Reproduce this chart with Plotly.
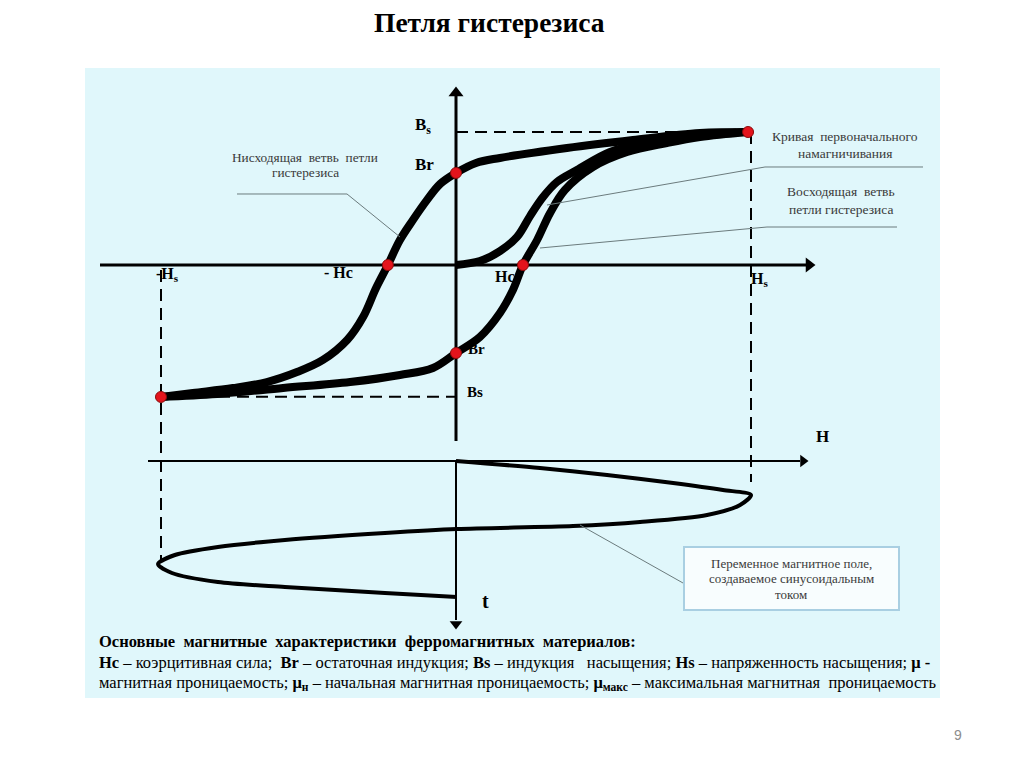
import plotly.graph_objects as go

# ---------------- data (H in units of Hs, B in units of Bs, t in quarter periods) ----------------
H_desc = [0.99, 0.827, 0.600, 0.376, 0.149, 0.068, 0.0, -0.054, -0.098, -0.146, -0.190,
          -0.231, -0.271, -0.315, -0.369, -0.451, -0.539, -0.641, -0.756, -0.892, -1.0]
B_desc = [1.0, 0.992, 0.940, 0.880, 0.805, 0.767, 0.692, 0.609, 0.489, 0.338, 0.188,
          0.0, -0.173, -0.391, -0.564, -0.714, -0.805, -0.880, -0.925, -0.962, -0.992]

H_asc = [-1.0, -0.810, -0.586, -0.359, -0.190, -0.078, 0.0, 0.081, 0.149, 0.193, 0.227,
         0.275, 0.319, 0.369, 0.464, 0.580, 0.715, 0.827, 0.99]
B_asc = [-0.992, -0.970, -0.925, -0.880, -0.827, -0.774, -0.662, -0.541, -0.361, -0.188, 0.0,
         0.188, 0.391, 0.564, 0.737, 0.850, 0.917, 0.962, 1.0]

H_init = [0.0, 0.081, 0.149, 0.207, 0.251, 0.295, 0.342, 0.410, 0.522, 0.658, 0.827, 0.95]
B_init = [0.0, 0.030, 0.105, 0.211, 0.368, 0.511, 0.624, 0.714, 0.850, 0.925, 0.975, 0.995]

key_H = [0.0, -0.231, 0.227, 0.0, 0.99, -1.0]      # Br, -Hc, Hc, -Br, +sat, -sat
key_B = [0.692, 0.0, 0.0, -0.662, 1.0, -0.992]

t_field = [0, 0.206, 0.412, 0.647, 0.853, 1.0, 1.294, 1.588, 1.794, 1.912, 2.0, 2.118,
           2.324, 2.529, 2.765, 3.03, 3.294, 3.559, 3.706, 3.882, 4.0]
H_field = [0, 0.285, 0.512, 0.736, 0.905, 1.0, 0.963, 0.851, 0.624, 0.397, 0.003, -0.241,
           -0.580, -0.807, -0.953, -1.01, -0.963, -0.807, -0.580, -0.241, 0.003]

H_sat = 1.0
B_sat = 1.0
B_sat_neg = -0.99

# ---------------- geometry of the scales ----------------
W, HGT = 1024, 767
X0, KX = 456, 295      # pixel of H=0, pixels per Hs
Y0, KY = 265, 133      # pixel of B=0, pixels per Bs
T0, KT = 461, 34       # pixel of t=0, pixels per quarter period

def B_of(py):
    return (Y0 - py) / KY

def t_of(py):
    return (py - T0) / KT

def H_of(px):
    return (px - X0) / KX

def P(x, y):
    return x / W, 1 - y / HGT

fig = go.Figure()

BLACK = "#000000"
dash = "12px,7px"

# dashed guide lines
fig.add_trace(go.Scatter(x=[0, H_sat], y=[B_sat, B_sat], mode="lines",
                         line=dict(color=BLACK, width=2, dash=dash)))
fig.add_trace(go.Scatter(x=[-H_sat, 0], y=[B_sat_neg, B_sat_neg], mode="lines",
                         line=dict(color=BLACK, width=2, dash=dash)))
fig.add_trace(go.Scatter(x=[H_sat, H_sat], y=[B_sat, B_of(482)], mode="lines",
                         line=dict(color=BLACK, width=2, dash=dash)))
fig.add_trace(go.Scatter(x=[-H_sat, -H_sat], y=[B_of(270), B_of(560)], mode="lines",
                         line=dict(color=BLACK, width=2, dash=dash)))

# axes of the B(H) diagram
fig.add_trace(go.Scatter(x=[H_of(100), H_of(806)], y=[0, 0], mode="lines",
                         line=dict(color=BLACK, width=3)))
fig.add_trace(go.Scatter(x=[H_of(809)], y=[0], mode="markers",
                         marker=dict(symbol="triangle-right", size=13, color=BLACK)))
fig.add_trace(go.Scatter(x=[0, 0], y=[B_of(441), B_of(96)], mode="lines",
                         line=dict(color=BLACK, width=3)))
fig.add_trace(go.Scatter(x=[0], y=[B_of(93)], mode="markers",
                         marker=dict(symbol="triangle-up", size=13, color=BLACK)))

# axes of the H(t) diagram
fig.add_trace(go.Scatter(x=[H_of(148), H_of(800)], y=[0, 0], yaxis="y2", mode="lines",
                         line=dict(color=BLACK, width=2)))
fig.add_trace(go.Scatter(x=[H_of(803)], y=[0], yaxis="y2", mode="markers",
                         marker=dict(symbol="triangle-right", size=11, color=BLACK)))
fig.add_trace(go.Scatter(x=[0, 0], y=[0, t_of(620)], yaxis="y2", mode="lines",
                         line=dict(color=BLACK, width=2)))
fig.add_trace(go.Scatter(x=[0], y=[t_of(624)], yaxis="y2", mode="markers",
                         marker=dict(symbol="triangle-down", size=11, color=BLACK)))

# hysteresis loop
for hx, by in [(H_desc, B_desc), (H_asc, B_asc), (H_init, B_init)]:
    fig.add_trace(go.Scatter(x=hx, y=by, mode="lines",
                             line=dict(color=BLACK, width=8, shape="spline", smoothing=1.0)))

# sinusoidal field
fig.add_trace(go.Scatter(x=H_field, y=t_field, yaxis="y2", mode="lines",
                         line=dict(color=BLACK, width=4, shape="spline", smoothing=0.8)))

# key points
fig.add_trace(go.Scatter(x=key_H, y=key_B, mode="markers",
                         marker=dict(size=11, color="#E3141C", line=dict(color="#8A0A0A", width=1))))

shapes = []
# panel
x0, y0 = P(85, 68)
x1, y1 = P(940, 698)
shapes.append(dict(type="rect", xref="paper", yref="paper", x0=x0, y0=y1, x1=x1, y1=y0,
                   fillcolor="rgb(224,247,251)", line=dict(width=0), layer="below"))
# text box
bx0, by0 = P(684, 547)
bx1, by1 = P(899, 610)
shapes.append(dict(type="rect", xref="paper", yref="paper", x0=bx0, y0=by1, x1=bx1, y1=by0,
                   fillcolor="#F8FDFE", line=dict(color="#A9CFE2", width=2), layer="below"))

LEAD = "#6B7B7D"
def poly(pts):
    p = [P(a, b) for a, b in pts]
    d = "M " + " L ".join(f"{a:.5f},{b:.5f}" for a, b in p)
    return dict(type="path", xref="paper", yref="paper", path=d,
                line=dict(color=LEAD, width=1))

shapes.append(poly([(237, 194), (347, 194), (400, 237)]))
shapes.append(poly([(923, 167), (765, 167), (547, 205)]))
shapes.append(poly([(897, 227), (767, 227), (540, 248)]))
shapes.append(poly([(580, 525), (683, 583)]))

SERIF = "Liberation Serif"
anns = []
def ann(text, x, y, size, color=BLACK, xanchor="center", family=SERIF):
    px_, py_ = P(x, y)
    anns.append(dict(text=text, x=px_, y=py_, xref="paper", yref="paper", showarrow=False,
                     xanchor=xanchor, yanchor="middle",
                     font=dict(family=family, size=size, color=color)))

ann("<b>Петля гистерезиса</b>", 489, 22, 27.5)
ann("<b>B<sub>s</sub></b>", 423, 126, 17)
ann("<b>Br</b>", 424, 165, 17)
ann("<b>-H<sub>s</sub></b>", 167, 274, 16)
ann("<b>- Hc</b>", 338, 273, 16)
ann("<b>Hc</b>", 505, 276, 16)
ann("<b>H<sub>s</sub></b>", 759, 279, 16)
ann("<b>Br</b>", 476, 349, 15)
ann("<b>Bs</b>", 475, 392, 15)
ann("<b>H</b>", 822, 436, 17)
ann("<b>t</b>", 485, 601, 20)

GR = "#3A3A3A"
ann("Нисходящая\u00a0 ветвь\u00a0 петли", 305, 157, 13.3, GR)
ann("гистерезиса", 305, 173, 13.3, GR)
ann("Кривая\u00a0 первоначального", 845, 136, 13.5, GR)
ann("намагничивания", 845, 153, 13.5, GR)
ann("Восходящая\u00a0 ветвь", 841, 191, 13.5, GR)
ann("петли гистерезиса", 841, 209, 13.5, GR)
ann("Переменное магнитное поле,", 791, 563, 13, GR)
ann("создаваемое синусоидальным", 791, 578, 13, GR)
ann("током", 791, 594, 13, GR)

ann("<b>Основные\u00a0 магнитные\u00a0 характеристики\u00a0 ферромагнитных\u00a0 материалов:</b>",
    97, 641, 16.5, xanchor="left")
ann("<b>Hc</b> – коэрцитивная сила;\u00a0 <b>Br</b> – остаточная индукция; <b>Bs</b> – индукция\u00a0\u00a0 насыщения; "
    "<b>Hs</b> – напряженность насыщения; <b>μ -</b>", 97, 662, 16.5, xanchor="left")
ann("магнитная проницаемость; <b>μ<sub>н</sub></b> – начальная магнитная проницаемость; "
    "<b>μ<sub>макс</sub></b> – максимальная магнитная\u00a0 проницаемость", 97, 683, 16.5, xanchor="left")
ann("9", 958, 735, 14, "#8C8C8C", family="Liberation Sans")

fig.update_layout(
    width=W, height=HGT, autosize=False,
    margin=dict(l=0, r=0, t=0, b=0, pad=0),
    paper_bgcolor="white", plot_bgcolor="white",
    showlegend=False,
    xaxis=dict(range=[-X0 / KX, (W - X0) / KX], visible=False, domain=[0, 1], fixedrange=True),
    yaxis=dict(range=[(Y0 - HGT) / KY, Y0 / KY], visible=False, domain=[0, 1], fixedrange=True),
    yaxis2=dict(range=[(HGT - T0) / KT, -T0 / KT], visible=False, overlaying="y", fixedrange=True),
    shapes=shapes, annotations=anns,
)

fig.write_html("out.html", config={"displayModeBar": False},
               post_script="document.body.style.margin='0px';document.body.style.overflow='hidden';")
